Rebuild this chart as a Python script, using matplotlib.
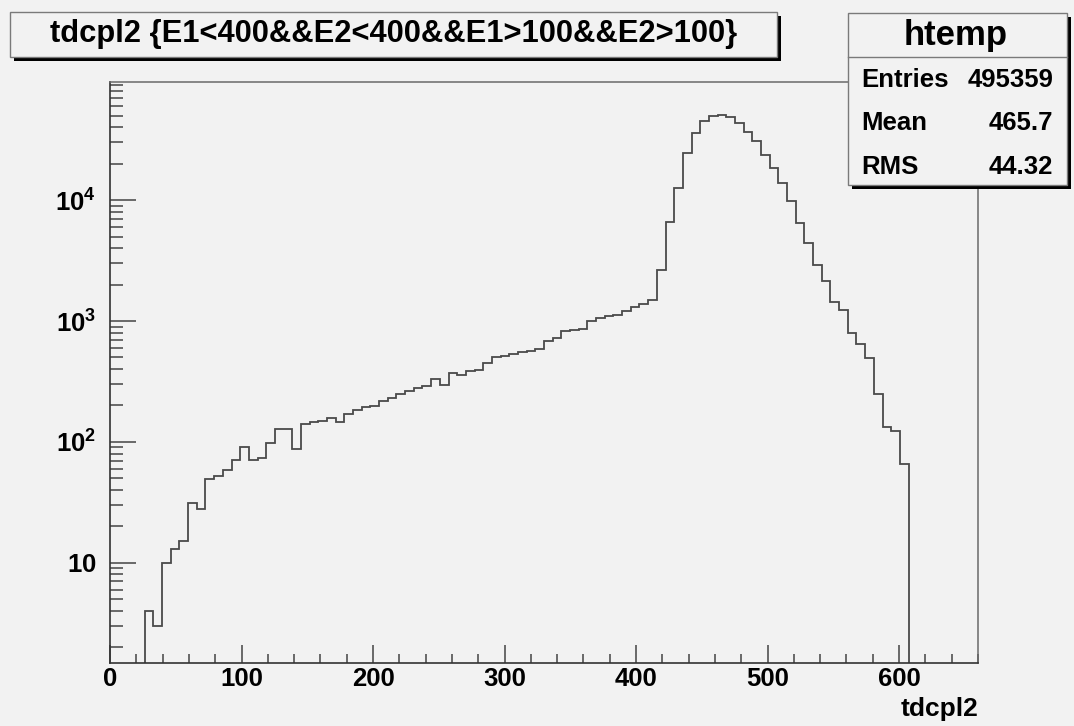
import numpy as np
import matplotlib
matplotlib.use("Agg")
import matplotlib.pyplot as plt
from matplotlib.patches import Rectangle
from matplotlib.lines import Line2D
from matplotlib.ticker import FixedLocator, FixedFormatter, LogLocator, MultipleLocator, NullFormatter

# ---- histogram data: 100 bins of tdcpl2 over [0, 660] ----
x_min, x_max, n_bins = 0.0, 660.0, 100
counts = [
    0, 0, 0, 0, 4, 3, 10, 13, 15, 31,
    28, 49, 52, 58, 71, 90, 71, 74, 98, 128,
    128, 88, 141, 147, 148, 158, 146, 170, 184, 196,
    199, 216, 230, 247, 265, 279, 291, 331, 293, 371,
    355, 383, 395, 449, 504, 516, 536, 550, 560, 590,
    687, 718, 831, 848, 864, 993, 1059, 1092, 1128, 1200,
    1296, 1391, 1501, 2660, 6607, 12620, 24600, 35980, 45500, 49400,
    51000, 48800, 43560, 36700, 30700, 23800, 18500, 13900, 9770, 6470,
    4420, 2910, 2158, 1426, 1241, 796, 646, 494, 249, 134,
    122, 65, 0, 0, 0, 0, 0, 0, 0, 0,
]

title_text = "tdcpl2 {E1<400&&E2<400&&E1>100&&E2>100}"
stats_name = "htemp"
stats_labels = ["Entries", "Mean", "RMS"]
stats_values = ["495359", "465.7", "44.32"]
x_title = "tdcpl2"

x_major = [0, 100, 200, 300, 400, 500, 600]
y_major = [10, 100, 1000, 10000]
y_major_labels = [r"$\mathbf{10}$", r"$\mathbf{10^{2}}$", r"$\mathbf{10^{3}}$", r"$\mathbf{10^{4}}$"]
y_limits = (1.48, 95000)

# ---- style ----
BG = "#f2f2f2"
LINE = "#4a4a4a"
plt.rcParams["font.family"] = ["Liberation Sans", "DejaVu Sans"]
plt.rcParams["font.weight"] = "bold"
plt.rcParams["mathtext.fontset"] = "custom"
plt.rcParams["mathtext.rm"] = "Liberation Sans"
plt.rcParams["mathtext.bf"] = "Liberation Sans:bold"

W, H = 1074, 726
fig = plt.figure(figsize=(W / 100, H / 100), dpi=100, facecolor=BG)


def fx(px):
    return px / W


def fy(py):
    return 1 - py / H


# plot frame in pixel units: left 110, right 978, top 82, bottom 663
ax = fig.add_axes([fx(110), fy(663), fx(978) - fx(110), fy(82) - fy(663)])
ax.set_facecolor(BG)

edges = np.linspace(x_min, x_max, n_bins + 1)
ax.set_yscale("log", nonpositive="clip")
ax.stairs(np.array(counts, dtype=float), edges, color=LINE, linewidth=1.3, baseline=None)

ax.set_xlim(x_min, x_max)
ax.set_ylim(*y_limits)

# axes lines
for side in ("left", "bottom"):
    ax.spines[side].set_color("#333333")
    ax.spines[side].set_linewidth(1.2)
for side in ("top", "right"):
    ax.spines[side].set_color("#6a6a6a")
    ax.spines[side].set_linewidth(1.1)

# x ticks
ax.xaxis.set_major_locator(FixedLocator(x_major))
ax.xaxis.set_major_formatter(FixedFormatter([str(v) for v in x_major]))
ax.xaxis.set_minor_locator(MultipleLocator(20))
ax.tick_params(axis="x", which="major", direction="in", length=13, width=1.1,
               color="#444444", labelsize=18.5, pad=3, top=False)
ax.tick_params(axis="x", which="minor", direction="in", length=6.5, width=1.1,
               color="#444444", top=False)

# y ticks
ax.yaxis.set_major_locator(FixedLocator(y_major))
ax.yaxis.set_major_formatter(FixedFormatter(y_major_labels))
ax.yaxis.set_minor_locator(LogLocator(base=10, subs=np.arange(2, 10)))
ax.yaxis.set_minor_formatter(NullFormatter())
ax.tick_params(axis="y", which="major", direction="in", length=19, width=1.1,
               color="#444444", labelsize=18.5, pad=10, right=False)
ax.tick_params(axis="y", which="minor", direction="in", length=9.5, width=1.1,
               color="#444444", right=False)
for lab in ax.get_xticklabels() + ax.get_yticklabels():
    lab.set_fontweight("bold")

# x-axis title, right-aligned at the axis end
fig.text(fx(978), fy(697), x_title, ha="right", va="top", fontsize=19, fontweight="bold")


def boxed(x0, y0, x1, y1, shadow=4):
    fig.add_artist(Rectangle((fx(x0 + shadow), fy(y1 + shadow)), fx(x1) - fx(x0), fy(y0) - fy(y1),
                             transform=fig.transFigure, facecolor="black", edgecolor="none", zorder=5))
    fig.add_artist(Rectangle((fx(x0), fy(y1)), fx(x1) - fx(x0), fy(y0) - fy(y1),
                             transform=fig.transFigure, facecolor=BG, edgecolor="#7a7a7a",
                             linewidth=1.0, zorder=6))


# title box
boxed(10, 12, 777, 57, shadow=4)
t = fig.text(fx(394), fy(34), title_text, ha="center", va="center",
             fontsize=22, fontweight="bold", zorder=7)
fig.canvas.draw()
w_now = t.get_window_extent().width
t.set_fontsize(22 * 685 / w_now)

# statistics box
boxed(848, 13, 1067, 185, shadow=4)
fig.add_artist(Line2D([fx(848), fx(1067)], [fy(57), fy(57)], transform=fig.transFigure,
                      color="#7a7a7a", linewidth=1.0, zorder=7))
fig.text(fx(956), fy(36), stats_name, ha="center", va="center", fontsize=25,
         fontweight="bold", zorder=7)
row_y = [80, 123, 167]
for lab, val, yy in zip(stats_labels, stats_values, row_y):
    fig.text(fx(861), fy(yy), lab, ha="left", va="center", fontsize=18.5, fontweight="bold", zorder=7)
    fig.text(fx(1053), fy(yy), val, ha="right", va="center", fontsize=18.5, fontweight="bold", zorder=7)

fig.savefig("out.png", dpi=100, facecolor=BG)
